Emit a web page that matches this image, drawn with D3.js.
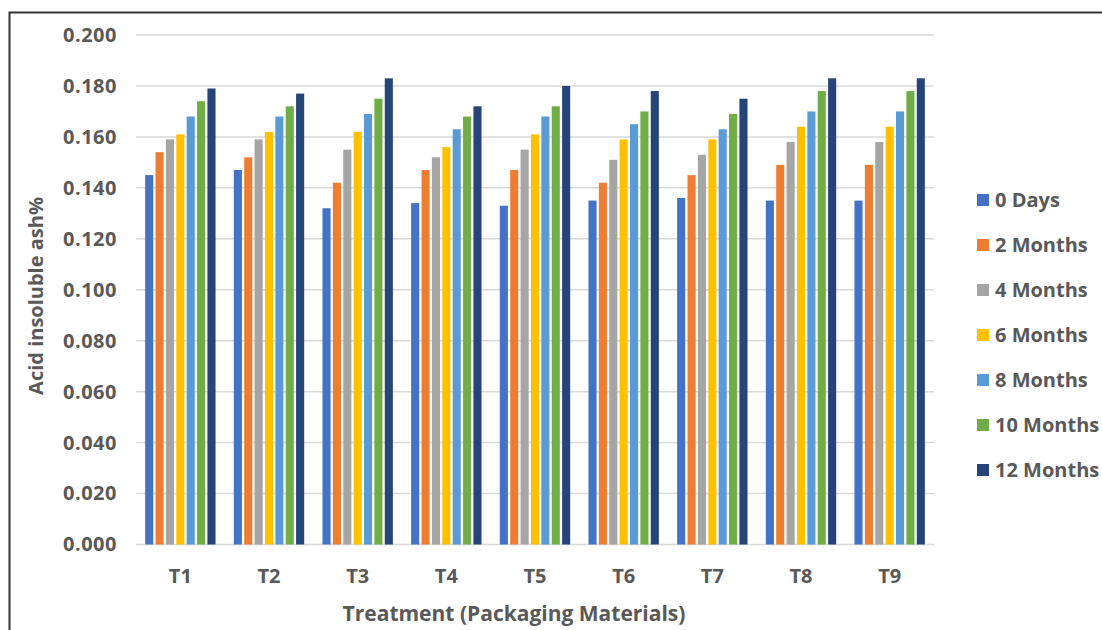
<!DOCTYPE html>
<html><head><meta charset="utf-8">
<script src="https://cdn.jsdelivr.net/npm/d3@7"></script>
<style>
html,body{margin:0;padding:0;background:#fff;}
svg{display:block;}
text{font-family:"Open Sans",sans-serif;font-weight:700;fill:#595959;}
</style></head>
<body>
<svg id="chart" width="1102" height="630"></svg>
<script>
const categories = ["T1","T2","T3","T4","T5","T6","T7","T8","T9"];
const seriesNames = ["0 Days","2 Months","4 Months","6 Months","8 Months","10 Months","12 Months"];
const days0    = [0.145,0.147,0.132,0.134,0.133,0.135,0.136,0.135,0.135];
const months2  = [0.154,0.152,0.142,0.147,0.147,0.142,0.145,0.149,0.149];
const months4  = [0.159,0.159,0.155,0.152,0.155,0.151,0.153,0.158,0.158];
const months6  = [0.161,0.162,0.162,0.156,0.161,0.159,0.159,0.164,0.164];
const months8  = [0.168,0.168,0.169,0.163,0.168,0.165,0.163,0.170,0.170];
const months10 = [0.174,0.172,0.175,0.168,0.172,0.170,0.169,0.178,0.178];
const months12 = [0.179,0.177,0.183,0.172,0.180,0.178,0.175,0.183,0.183];
const yTicks = [0,0.02,0.04,0.06,0.08,0.10,0.12,0.14,0.16,0.18,0.20];
const colors = ["#4472C4","#ED7D31","#A5A5A5","#FFC000","#5B9BD5","#70AD47","#264478"];
const seriesValues = [days0,months2,months4,months6,months8,months10,months12];

(function(){
const svg = d3.select("#chart");
svg.append("rect").attr("x",9.5).attr("y",12.5).attr("width",1200).attr("height",700)
  .attr("fill","none").attr("stroke","#333").attr("stroke-width",2);

const pL = 136, pR = 934, pT = 35, pB = 544.5;
const y = d3.scaleLinear().domain([0,0.2]).range([pB, pT]);
const x0 = d3.scaleBand().domain(categories).range([pL, pR]).paddingInner(0).paddingOuter(0);
const x1 = d3.scaleBand().domain(seriesNames).range([8, x0.bandwidth()-8]).paddingInner(0.22).paddingOuter(0.11);

svg.append("g").selectAll("line").data(yTicks).join("line")
  .attr("x1",pL).attr("x2",pR)
  .attr("y1",d=>y(d)).attr("y2",d=>y(d))
  .attr("stroke","#D9D9D9").attr("stroke-width",1.5);

const yAxis = svg.append("g").attr("transform",`translate(${pL},0)`)
  .call(d3.axisLeft(y).tickValues(yTicks).tickFormat(d3.format(".3f")).tickSize(0).tickPadding(19));
yAxis.select(".domain").remove();
yAxis.selectAll("text").style("font-size","20px").style("font-family","'Open Sans',sans-serif")
  .style("font-weight","700").attr("fill","#595959").style("letter-spacing","0.5px");

const groups = svg.append("g").selectAll("g").data(categories).join("g")
  .attr("transform",d=>`translate(${x0(d)},0)`);
groups.selectAll("rect").data((c,ci)=>seriesNames.map((s,si)=>({s,si,v:seriesValues[si][ci]}))).join("rect")
  .attr("x",d=>x1(d.s)).attr("width",x1.bandwidth())
  .attr("y",d=>y(d.v)).attr("height",d=>y(0)-y(d.v))
  .attr("fill",d=>colors[d.si]);

const xAxis = svg.append("g").attr("transform",`translate(0,${pB})`)
  .call(d3.axisBottom(x0).tickSize(0).tickPadding(24));
xAxis.select(".domain").remove();
xAxis.selectAll("text").style("font-size","20px").style("font-family","'Open Sans',sans-serif")
  .style("font-weight","700").attr("fill","#595959");

svg.append("text").attr("x",514).attr("y",621).attr("text-anchor","middle")
  .style("font-size","21px").text("Treatment (Packaging Materials)");
svg.append("text").attr("transform","translate(43,296) rotate(-90)").attr("text-anchor","middle")
  .style("font-size","20px").text("Acid insoluble ash%");

const leg = svg.append("g").selectAll("g").data(seriesNames).join("g")
  .attr("transform",(d,i)=>`translate(977,${200+i*45})`);
leg.append("rect").attr("x",0).attr("y",-6).attr("width",12).attr("height",12)
  .attr("fill",(d,i)=>colors[i]);
leg.append("text").attr("x",18).attr("y",0).attr("dy","0.35em")
  .style("font-size","20px").text(d=>d);
})();
</script>
</body></html>
